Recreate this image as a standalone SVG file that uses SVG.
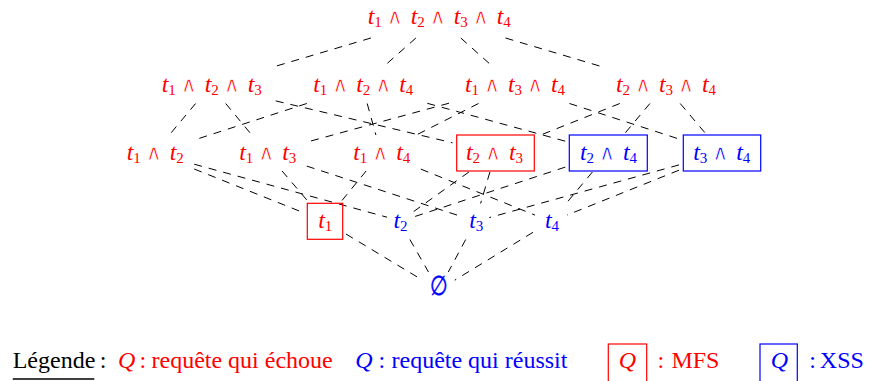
<svg xmlns="http://www.w3.org/2000/svg" width="869" height="381" viewBox="0 0 869 381">
<style>
.r{fill:#ff0000}
.b{fill:#0000ff}
.k{fill:#000}
.t{font-family:"Liberation Serif",serif;font-style:italic;font-size:24px}
.d{font-family:"Liberation Serif",serif;font-size:15px}
.o{font-family:"DejaVu Sans",sans-serif;font-size:22px;text-anchor:middle;stroke:#fff;stroke-width:0.8}
.lg{font-family:"Liberation Serif",serif;font-size:24px}
.q{font-family:"Liberation Serif",serif;font-style:italic;font-size:24px;text-anchor:middle}
.e line{stroke:#000;stroke-width:1;stroke-dasharray:8 7;fill:none}
.rb{fill:none;stroke:#ff0000;stroke-width:1.2}
.bb{fill:none;stroke:#0000ff;stroke-width:1.2}
</style>
<rect width="869" height="381" fill="#fff"/>
<g class="e" id="connectors">
<line x1="370.9" y1="38" x2="271.4" y2="67.5"/>
<line x1="415.9" y1="38" x2="382.6" y2="67.5"/>
<line x1="460.8" y1="38" x2="493.8" y2="67.5"/>
<line x1="505.5" y1="38" x2="604.6" y2="67.5"/>
<line x1="195.6" y1="103.5" x2="169.3" y2="135"/>
<line x1="225.7" y1="103.5" x2="251.8" y2="135"/>
<line x1="275.7" y1="100.9" x2="452.5" y2="142.8"/>
<line x1="306.8" y1="103.5" x2="194.2" y2="140"/>
<line x1="367.2" y1="103.5" x2="375.9" y2="135"/>
<line x1="427.3" y1="103.3" x2="565.3" y2="141.2"/>
<line x1="449" y1="103.2" x2="306.8" y2="142.1"/>
<line x1="478.5" y1="103.5" x2="416.3" y2="135"/>
<line x1="569.5" y1="103.5" x2="679" y2="139"/>
<line x1="619.8" y1="103.5" x2="538.5" y2="135.9"/>
<line x1="649.9" y1="103.5" x2="624.3" y2="134"/>
<line x1="680.2" y1="103.5" x2="706" y2="134"/>
<line x1="194.2" y1="169" x2="304" y2="212.9"/>
<line x1="194.2" y1="164.2" x2="387" y2="217.2"/>
<line x1="282.1" y1="171" x2="308.8" y2="202.3"/>
<line x1="306.8" y1="166.1" x2="462" y2="216.7"/>
<line x1="366.1" y1="171" x2="340.5" y2="202.3"/>
<line x1="420.8" y1="169.1" x2="535" y2="215.1"/>
<line x1="468.9" y1="172" x2="413.7" y2="211.5"/>
<line x1="489.9" y1="172" x2="480.6" y2="203.5"/>
<line x1="565.3" y1="167.1" x2="413.7" y2="216.9"/>
<line x1="592.4" y1="172" x2="566.1" y2="203.5"/>
<line x1="679" y1="164.9" x2="489.3" y2="217.6"/>
<line x1="679" y1="170.2" x2="567" y2="215.1"/>
<line x1="346" y1="234" x2="422.7" y2="280.3"/>
<line x1="409.9" y1="239.5" x2="428.5" y2="272"/>
<line x1="465.7" y1="239.5" x2="448.3" y2="272"/>
<line x1="533" y1="232.3" x2="454.7" y2="280.2"/>
</g>
<g id="n1234"><text class="r"><tspan class="t" x="367.7" y="24">t</tspan><tspan class="d" x="374.2" y="27">1</tspan><tspan class="o" x="394.7" y="24">∧</tspan><tspan class="t" x="410.7" y="24">t</tspan><tspan class="d" x="417.2" y="27">2</tspan><tspan class="o" x="437.7" y="24">∧</tspan><tspan class="t" x="453.7" y="24">t</tspan><tspan class="d" x="460.2" y="27">3</tspan><tspan class="o" x="480.7" y="24">∧</tspan><tspan class="t" x="496.7" y="24">t</tspan><tspan class="d" x="503.2" y="27">4</tspan></text></g>
<g id="n123"><text class="r"><tspan class="t" x="161.7" y="92">t</tspan><tspan class="d" x="168.2" y="95">1</tspan><tspan class="o" x="188.7" y="92">∧</tspan><tspan class="t" x="204.7" y="92">t</tspan><tspan class="d" x="211.2" y="95">2</tspan><tspan class="o" x="231.7" y="92">∧</tspan><tspan class="t" x="247.7" y="92">t</tspan><tspan class="d" x="254.2" y="95">3</tspan></text></g>
<g id="n124"><text class="r"><tspan class="t" x="313.3" y="92">t</tspan><tspan class="d" x="319.8" y="95">1</tspan><tspan class="o" x="340.3" y="92">∧</tspan><tspan class="t" x="356.3" y="92">t</tspan><tspan class="d" x="362.8" y="95">2</tspan><tspan class="o" x="383.3" y="92">∧</tspan><tspan class="t" x="399.3" y="92">t</tspan><tspan class="d" x="405.8" y="95">4</tspan></text></g>
<g id="n134"><text class="r"><tspan class="t" x="465" y="92">t</tspan><tspan class="d" x="471.5" y="95">1</tspan><tspan class="o" x="492" y="92">∧</tspan><tspan class="t" x="508" y="92">t</tspan><tspan class="d" x="514.5" y="95">3</tspan><tspan class="o" x="535" y="92">∧</tspan><tspan class="t" x="551" y="92">t</tspan><tspan class="d" x="557.5" y="95">4</tspan></text></g>
<g id="n234"><text class="r"><tspan class="t" x="616" y="92">t</tspan><tspan class="d" x="622.5" y="95">2</tspan><tspan class="o" x="643" y="92">∧</tspan><tspan class="t" x="659" y="92">t</tspan><tspan class="d" x="665.5" y="95">3</tspan><tspan class="o" x="686" y="92">∧</tspan><tspan class="t" x="702" y="92">t</tspan><tspan class="d" x="708.5" y="95">4</tspan></text></g>
<g id="n12"><text class="r"><tspan class="t" x="126.7" y="160">t</tspan><tspan class="d" x="133.2" y="163">1</tspan><tspan class="o" x="153.7" y="160">∧</tspan><tspan class="t" x="169.7" y="160">t</tspan><tspan class="d" x="176.2" y="163">2</tspan></text></g>
<g id="n13"><text class="r"><tspan class="t" x="239.3" y="160">t</tspan><tspan class="d" x="245.8" y="163">1</tspan><tspan class="o" x="266.3" y="160">∧</tspan><tspan class="t" x="282.3" y="160">t</tspan><tspan class="d" x="288.8" y="163">3</tspan></text></g>
<g id="n14"><text class="r"><tspan class="t" x="353.3" y="160">t</tspan><tspan class="d" x="359.8" y="163">1</tspan><tspan class="o" x="380.3" y="160">∧</tspan><tspan class="t" x="396.3" y="160">t</tspan><tspan class="d" x="402.8" y="163">4</tspan></text></g>
<g id="n23"><rect class="rb" x="456.7" y="135" width="77.6" height="36"/><text class="r"><tspan class="t" x="466" y="160">t</tspan><tspan class="d" x="472.5" y="163">2</tspan><tspan class="o" x="493" y="160">∧</tspan><tspan class="t" x="509" y="160">t</tspan><tspan class="d" x="515.5" y="163">3</tspan></text></g>
<g id="n24"><rect class="bb" x="569.3" y="135" width="78" height="36"/><text class="b"><tspan class="t" x="580" y="160">t</tspan><tspan class="d" x="586.5" y="163">2</tspan><tspan class="o" x="607" y="160">∧</tspan><tspan class="t" x="623" y="160">t</tspan><tspan class="d" x="629.5" y="163">4</tspan></text></g>
<g id="n34"><rect class="bb" x="683.3" y="135" width="77.4" height="36"/><text class="b"><tspan class="t" x="693.3" y="160">t</tspan><tspan class="d" x="699.8" y="163">3</tspan><tspan class="o" x="720.3" y="160">∧</tspan><tspan class="t" x="736.3" y="160">t</tspan><tspan class="d" x="742.8" y="163">4</tspan></text></g>
<g id="n1"><rect class="rb" x="307.3" y="203.3" width="35.4" height="36"/><text class="r"><tspan class="t" x="318.3" y="228">t</tspan><tspan class="d" x="324.8" y="231">1</tspan></text></g>
<g id="n2"><text class="b"><tspan class="t" x="393.5" y="228">t</tspan><tspan class="d" x="400" y="231">2</tspan></text></g>
<g id="n3"><text class="b"><tspan class="t" x="469.3" y="228">t</tspan><tspan class="d" x="475.8" y="231">3</tspan></text></g>
<g id="n4"><text class="b"><tspan class="t" x="545" y="228">t</tspan><tspan class="d" x="551.5" y="231">4</tspan></text></g>
<g id="n0"><text class="b" x="438.7" y="295" font-family="DejaVu Sans, sans-serif" font-size="27" text-anchor="middle" stroke="#0000ff" stroke-width="0.5" transform="translate(438.7 0) scale(0.75 1) translate(-438.7 0)">∅</text></g>
<g id="legend">
<text class="lg k" x="12.7" y="368">Légende</text>
<line x1="12.7" y1="379" x2="94.3" y2="379" stroke="#000" stroke-width="1.3"/>
<text class="lg k" x="99.8" y="368">:</text>
<text class="q r" x="126.7" y="368">Q</text>
<text class="lg r" x="139.5" y="368">:</text>
<text class="lg r" x="151.5" y="368">requête qui échoue</text>
<text class="q b" x="364" y="368">Q</text>
<text class="lg b" x="378.5" y="368">:</text>
<text class="lg b" x="391.5" y="368">requête qui réussit</text>
<rect class="rb" x="608.3" y="344" width="38.4" height="50"/>
<text class="q r" x="627.5" y="368">Q</text>
<text class="lg r" x="657.5" y="368">:</text>
<text class="lg r" x="671.4" y="368">MFS</text>
<rect class="bb" x="760" y="344" width="37.3" height="50"/>
<text class="q b" x="779.5" y="368">Q</text>
<text class="lg b" x="809.3" y="368">:</text>
<text class="lg b" x="819.8" y="368">XSS</text>
</g>
</svg>
